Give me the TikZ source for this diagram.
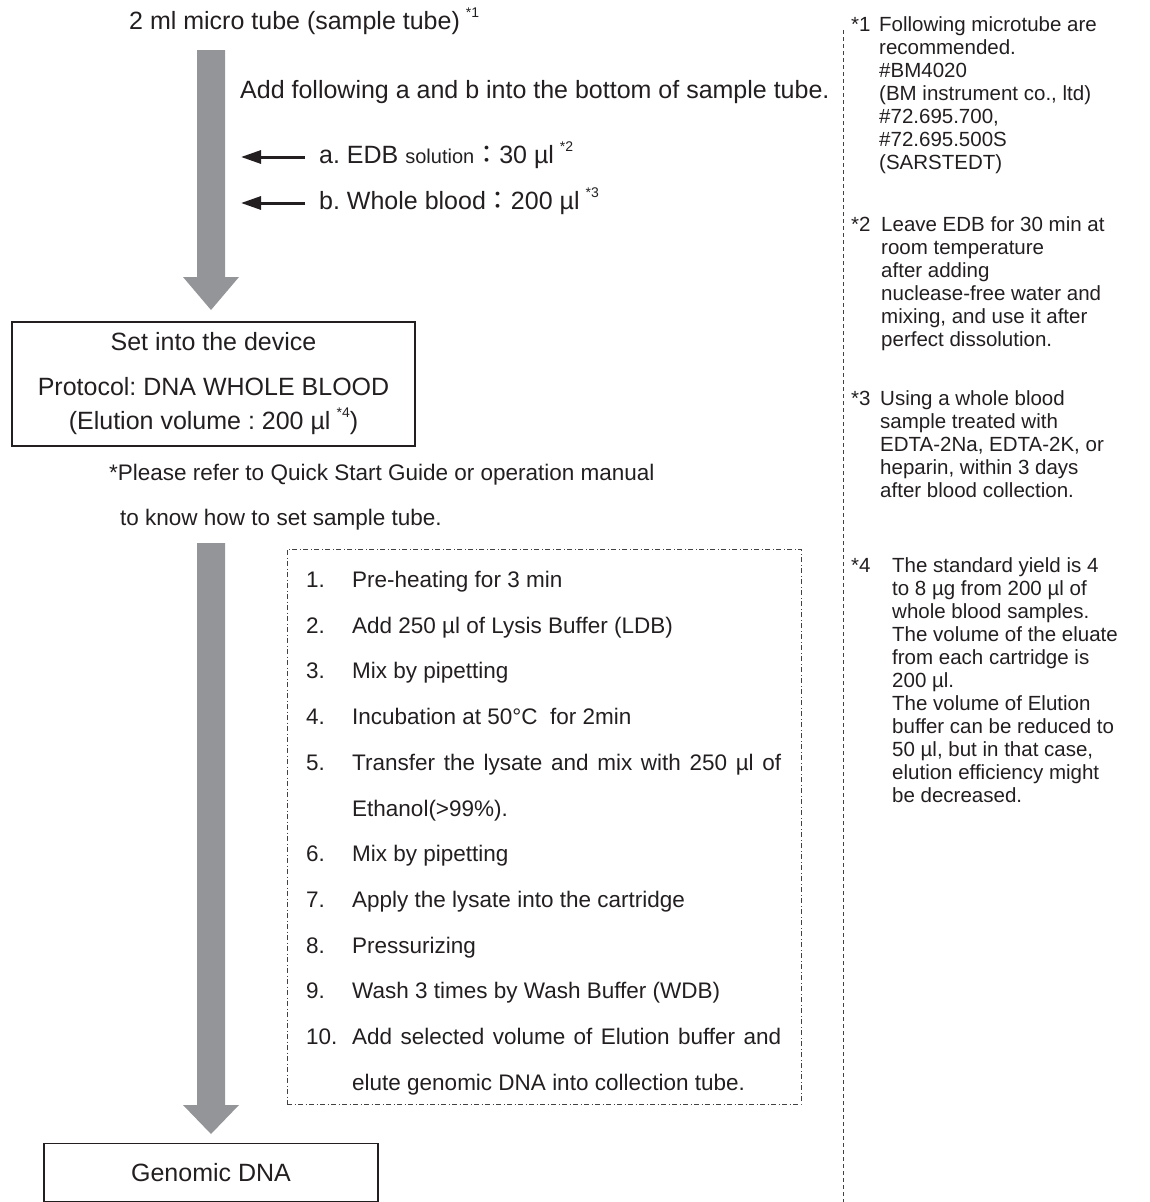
\documentclass[tikz,border=0pt]{standalone}
\usepackage{fontspec}
\setmainfont{Liberation Sans}
\newfontfamily\cjkfont{Noto Sans CJK JP}
\usetikzlibrary{arrows.meta}
\definecolor{flowgray}{RGB}{147,149,152}
\definecolor{inkblack}{RGB}{35,31,32}
\newcommand{\fnmark}[1]{\hspace{6pt}\raisebox{0.5em}{\fontsize{14}{14}\selectfont *#1}}
\newcommand{\fwcolon}{{\cjkfont ：}}
\frenchspacing
\begin{document}
\begin{tikzpicture}[x=1pt, y=-1pt,
		flowarrow/.style={fill=flowgray},
		addarrow/.style={draw=inkblack, line width=3pt, -{Triangle[length=20pt,width=13pt]}},
		stepbox/.style={draw=inkblack, line width=1.4pt, inner sep=0pt, text=inkblack},
		stepframe/.style={draw=inkblack!85, line width=1pt, dash pattern=on 5pt off 2.5pt on 1pt off 2.5pt, minimum width=514pt, minimum height=555pt, inner sep=0pt},
		noteline/.style={draw=inkblack!85, line width=1pt, dash pattern=on 4pt off 3pt},
		big/.style={font=\fontsize{25}{30}\selectfont, text=inkblack, inner sep=0pt, anchor=west, text height=18pt, text depth=5pt},
		subtext/.style={font=\fontsize{22.5}{27}\selectfont, text=inkblack, inner sep=0pt, anchor=west, text height=16pt, text depth=5pt},
		note/.style={font=\fontsize{20.5}{23}\selectfont, text=inkblack, inner sep=0pt, anchor=north west, align=left},
		notemark/.style={font=\fontsize{20.5}{23}\selectfont, text=inkblack, inner sep=0pt, anchor=base west}]
		\clip (0,0) rectangle (1149,1202);

		\node[big] (tube) at (129,23) {2 ml micro tube (sample tube)\fnmark{1}};
		\node[big] (addab) at (240,92) {Add following a and b into the bottom of sample tube.};
		\node[big] (adda) at (319,157) {a. EDB {\fontsize{20}{24}\selectfont solution}\fwcolon 30 µl\fnmark{2}};
		\node[big] (addb) at (319,203) {b. Whole blood\fwcolon 200 µl\fnmark{3}};
		\draw[addarrow] ([xshift=-14]adda.west) -- ++(-64,0);
		\draw[addarrow] ([xshift=-14]addb.west) -- ++(-64,0);

		\node[stepbox, minimum width=403pt, minimum height=124pt, align=center, font=\fontsize{25}{34}\selectfont] (device) at (213.5,384)
			{Set into the device\\[11pt]Protocol: DNA WHOLE BLOOD\\(Elution volume : 200 µl\fnmark{4})};
		\node[subtext] (refer) at (109,475) {*Please refer to Quick Start Guide or operation manual};
		\node[subtext] (refer2) at (120,520) {to know how to set sample tube.};

		\foreach \ya/\yb/\yc in {50/277/310, 543/1105/1134}
			\fill[flowarrow] (197,\ya) -- (225,\ya) -- (225,\yb) -- (239,\yb) -- (211,\yc) -- (183,\yb) -- (197,\yb) -- cycle;

		\node[stepframe] (steps) at (544,826.5) {};
		\foreach \n/\t [count=\i from 0] in {1./Pre-heating for 3 min, 2./Add 250 µl of Lysis Buffer (LDB), 3./Mix by pipetting,
			4./Incubation at 50°C\ \ for 2min, 5./\makebox[429pt][s]{Transfer the lysate and mix with 250 µl of}, {}/Ethanol(>99\%).,
			6./Mix by pipetting, 7./Apply the lysate into the cartridge, 8./Pressurizing, 9./Wash 3 times by Wash Buffer (WDB),
			10./\makebox[429pt][s]{Add selected volume of Elution buffer and}, {}/elute genomic DNA into collection tube.} {
			\node[subtext] (num\i) at (306,{582+\i*45.7}) {\n};
			\node[subtext] (txt\i) at (352,{582+\i*45.7}) {\t};
		}

		\node[stepbox, minimum width=334pt, anchor=north, inner ysep=20pt, font=\fontsize{25}{30}\selectfont] (dna) at (211,1143) {Genomic DNA};

		\draw[noteline] (843,30) -- (843,1202);
		\node[note] (n1) at (879,16.5) {Following microtube are\\recommended.\\\#BM4020\\(BM instrument co., ltd)\\\#72.695.700,\\\#72.695.500S\\(SARSTEDT)};
		\node[notemark] (m1) at (851,31.5) {*1};
		\node[note] (n2) at (881,216.5) {Leave EDB for 30 min at\\room temperature\\after adding\\nuclease-free water and\\mixing, and use it after\\perfect dissolution.};
		\node[notemark] (m2) at (851,231.5) {*2};
		\node[note] (n3) at (880,390.5) {Using a whole blood\\sample treated with\\EDTA-2Na, EDTA-2K, or\\heparin, within 3 days\\after blood collection.};
		\node[notemark] (m3) at (851,405.5) {*3};
		\node[note] (n4) at (892,557.5) {The standard yield is 4\\to 8 µg from 200 µl of\\whole blood samples.\\The volume of the eluate\\from each cartridge is\\200 µl.\\The volume of Elution\\buffer can be reduced to\\50 µl, but in that case,\\elution efficiency might\\be decreased.};
		\node[notemark] (m4) at (851,572.5) {*4};
	\end{tikzpicture}
\end{document}
